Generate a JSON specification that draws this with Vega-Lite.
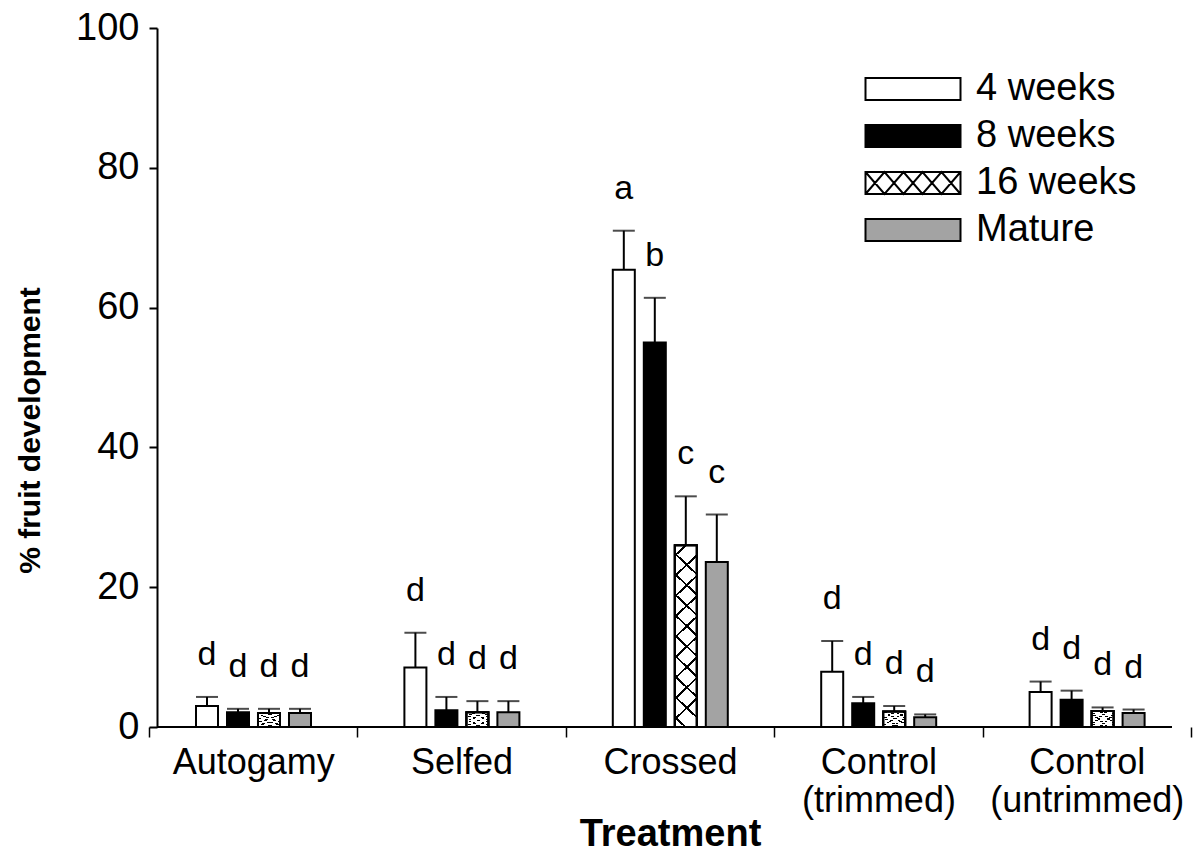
{
  "$schema": "https://vega.github.io/schema/vega-lite/v6.json",
  "width": 1015,
  "height": 699,
  "autosize": "none",
  "padding": {"left": 157, "top": 28, "right": 27, "bottom": 127},
  "background": "white",
  "config": {
    "view": {"stroke": null},
    "font": "Liberation Sans",
    "axis": {"labelColor": "black", "titleColor": "black", "grid": false, "labelFont": "Liberation Sans", "titleFont": "Liberation Sans"},
    "legend": {"labelFont": "Liberation Sans"}
  },
  "data": {
    "values": [
      {"treatment": "Autogamy", "age": "4 weeks", "value": 3.0, "err": 4.3, "letter": "d"},
      {"treatment": "Autogamy", "age": "8 weeks", "value": 2.1, "err": 2.6, "letter": "d"},
      {"treatment": "Autogamy", "age": "16 weeks", "value": 2.0, "err": 2.6, "letter": "d"},
      {"treatment": "Autogamy", "age": "Mature", "value": 2.0, "err": 2.6, "letter": "d"},
      {"treatment": "Selfed", "age": "4 weeks", "value": 8.5, "err": 13.5, "letter": "d"},
      {"treatment": "Selfed", "age": "8 weeks", "value": 2.4, "err": 4.3, "letter": "d"},
      {"treatment": "Selfed", "age": "16 weeks", "value": 2.1, "err": 3.7, "letter": "d"},
      {"treatment": "Selfed", "age": "Mature", "value": 2.1, "err": 3.7, "letter": "d"},
      {"treatment": "Crossed", "age": "4 weeks", "value": 65.4, "err": 71.0, "letter": "a"},
      {"treatment": "Crossed", "age": "8 weeks", "value": 55.0, "err": 61.4, "letter": "b"},
      {"treatment": "Crossed", "age": "16 weeks", "value": 26.0, "err": 33.0, "letter": "c"},
      {"treatment": "Crossed", "age": "Mature", "value": 23.6, "err": 30.4, "letter": "c"},
      {"treatment": "Control (trimmed)", "age": "4 weeks", "value": 7.9, "err": 12.3, "letter": "d"},
      {"treatment": "Control (trimmed)", "age": "8 weeks", "value": 3.4, "err": 4.3, "letter": "d"},
      {"treatment": "Control (trimmed)", "age": "16 weeks", "value": 2.2, "err": 3.0, "letter": "d"},
      {"treatment": "Control (trimmed)", "age": "Mature", "value": 1.4, "err": 1.8, "letter": "d"},
      {"treatment": "Control (untrimmed)", "age": "4 weeks", "value": 5.0, "err": 6.5, "letter": "d"},
      {"treatment": "Control (untrimmed)", "age": "8 weeks", "value": 3.9, "err": 5.2, "letter": "d"},
      {"treatment": "Control (untrimmed)", "age": "16 weeks", "value": 2.3, "err": 2.8, "letter": "d"},
      {"treatment": "Control (untrimmed)", "age": "Mature", "value": 2.0, "err": 2.5, "letter": "d"}
    ]
  },
  "layer": [
    {
      "mark": {"type": "bar", "stroke": "black", "strokeWidth": 2},
      "encoding": {
        "x": {
          "field": "treatment", "type": "nominal",
          "sort": ["Autogamy", "Selfed", "Crossed", "Control (trimmed)", "Control (untrimmed)"],
          "scale": {"range": [-8, 1034], "paddingInner": 0, "paddingOuter": 0},
          "axis": {
            "domain": false, "tickBand": "extent", "tickSize": 10, "tickColor": "black", "tickWidth": 1.5,
            "labelAngle": 0, "labelFontSize": 36, "labelExpr": "split(datum.label, ' ')", "labelLineHeight": 38,
            "labelPadding": 8, "labelBaseline": "top", "labelLimit": 400,
            "title": "Treatment", "titleFontSize": 38, "titleFontWeight": "bold", "titlePadding": -3
          }
        },
        "xOffset": {
          "field": "age", "type": "nominal",
          "sort": ["4 weeks", "8 weeks", "16 weeks", "Mature"],
          "scale": {"range": [47, 162], "paddingInner": 0.29, "paddingOuter": 0}
        },
        "y": {
          "field": "value", "type": "quantitative",
          "scale": {"domain": [0, 100], "nice": false},
          "axis": {
            "values": [0, 20, 40, 60, 80, 100], "domain": true, "domainColor": "black", "domainWidth": 2,
            "tickSize": 8, "tickColor": "black", "tickWidth": 2, "labelFontSize": 38, "labelPadding": 10,
            "title": "% fruit development", "titleFontSize": 30, "titleFontWeight": "bold", "titlePadding": 30,
            "titleY": 402
          }
        },
        "color": {
          "field": "age", "type": "nominal",
          "scale": {
            "domain": ["4 weeks", "8 weeks", "16 weeks", "Mature"],
            "range": ["white", "black", "white", "#a3a3a3"]
          },
          "legend": {
            "orient": "none", "legendX": 730, "legendY": 35, "title": null,
            "symbolType": "M-1.9,-0.44H1.9V0.44H-1.9Z", "symbolSize": 2500,
            "symbolStrokeColor": "black", "symbolStrokeWidth": 2,
            "labelFontSize": 38, "labelColor": "black", "labelOffset": 37, "rowPadding": 2, "labelLimit": 400,
            "encode": {
              "symbols": {
                "update": {
                  "stroke": {"value": "black"},
                  "strokeWidth": {"value": 2},
                  "shape": [
                    {
                      "test": "datum.value === '16 weeks'",
                      "value": "M-1.9,-0.44H1.9V0.44H-1.9Z M-1.9,-0.44L-1.14,0.44L-0.38,-0.44L0.38,0.44L1.14,-0.44L1.9,0.44 M-1.9,0.44L-1.14,-0.44L-0.38,0.44L0.38,-0.44L1.14,0.44L1.9,-0.44"
                    },
                    {"value": "M-1.9,-0.44H1.9V0.44H-1.9Z"}
                  ]
                }
              }
            }
          }
        }
      }
    },
    {
      "transform": [{"filter": "datum.age == '16 weeks'"}],
      "mark": {
        "type": "bar", "stroke": "black", "strokeWidth": 2,
        "fill": {
          "gradient": "linear", "x1": 0, "y1": 0, "x2": 0.115, "y2": 1,
          "stops": [
            {"offset": 0, "color": "transparent"},
            {"offset": 0.05, "color": "transparent"}, {"offset": 0.05, "color": "black"}, {"offset": 0.064, "color": "black"}, {"offset": 0.064, "color": "transparent"},
            {"offset": 0.161, "color": "transparent"}, {"offset": 0.161, "color": "black"}, {"offset": 0.175, "color": "black"}, {"offset": 0.175, "color": "transparent"},
            {"offset": 0.272, "color": "transparent"}, {"offset": 0.272, "color": "black"}, {"offset": 0.286, "color": "black"}, {"offset": 0.286, "color": "transparent"},
            {"offset": 0.383, "color": "transparent"}, {"offset": 0.383, "color": "black"}, {"offset": 0.397, "color": "black"}, {"offset": 0.397, "color": "transparent"},
            {"offset": 0.494, "color": "transparent"}, {"offset": 0.494, "color": "black"}, {"offset": 0.508, "color": "black"}, {"offset": 0.508, "color": "transparent"},
            {"offset": 0.605, "color": "transparent"}, {"offset": 0.605, "color": "black"}, {"offset": 0.619, "color": "black"}, {"offset": 0.619, "color": "transparent"},
            {"offset": 0.716, "color": "transparent"}, {"offset": 0.716, "color": "black"}, {"offset": 0.730, "color": "black"}, {"offset": 0.730, "color": "transparent"},
            {"offset": 0.827, "color": "transparent"}, {"offset": 0.827, "color": "black"}, {"offset": 0.841, "color": "black"}, {"offset": 0.841, "color": "transparent"},
            {"offset": 0.938, "color": "transparent"}, {"offset": 0.938, "color": "black"}, {"offset": 0.952, "color": "black"}, {"offset": 0.952, "color": "transparent"},
            {"offset": 1, "color": "transparent"}
          ]
        }
      },
      "encoding": {
        "x": {"field": "treatment", "type": "nominal", "sort": ["Autogamy", "Selfed", "Crossed", "Control (trimmed)", "Control (untrimmed)"]},
        "xOffset": {"field": "age", "type": "nominal", "sort": ["4 weeks", "8 weeks", "16 weeks", "Mature"]},
        "y": {"field": "value", "type": "quantitative"}
      }
    },
    {
      "transform": [{"filter": "datum.age == '16 weeks'"}],
      "mark": {
        "type": "bar", "stroke": "black", "strokeWidth": 2,
        "fill": {
          "gradient": "linear", "x1": 0.115, "y1": 0, "x2": 0, "y2": 1,
          "stops": [
            {"offset": 0, "color": "transparent"},
            {"offset": 0.05, "color": "transparent"}, {"offset": 0.05, "color": "black"}, {"offset": 0.064, "color": "black"}, {"offset": 0.064, "color": "transparent"},
            {"offset": 0.161, "color": "transparent"}, {"offset": 0.161, "color": "black"}, {"offset": 0.175, "color": "black"}, {"offset": 0.175, "color": "transparent"},
            {"offset": 0.272, "color": "transparent"}, {"offset": 0.272, "color": "black"}, {"offset": 0.286, "color": "black"}, {"offset": 0.286, "color": "transparent"},
            {"offset": 0.383, "color": "transparent"}, {"offset": 0.383, "color": "black"}, {"offset": 0.397, "color": "black"}, {"offset": 0.397, "color": "transparent"},
            {"offset": 0.494, "color": "transparent"}, {"offset": 0.494, "color": "black"}, {"offset": 0.508, "color": "black"}, {"offset": 0.508, "color": "transparent"},
            {"offset": 0.605, "color": "transparent"}, {"offset": 0.605, "color": "black"}, {"offset": 0.619, "color": "black"}, {"offset": 0.619, "color": "transparent"},
            {"offset": 0.716, "color": "transparent"}, {"offset": 0.716, "color": "black"}, {"offset": 0.730, "color": "black"}, {"offset": 0.730, "color": "transparent"},
            {"offset": 0.827, "color": "transparent"}, {"offset": 0.827, "color": "black"}, {"offset": 0.841, "color": "black"}, {"offset": 0.841, "color": "transparent"},
            {"offset": 0.938, "color": "transparent"}, {"offset": 0.938, "color": "black"}, {"offset": 0.952, "color": "black"}, {"offset": 0.952, "color": "transparent"},
            {"offset": 1, "color": "transparent"}
          ]
        }
      },
      "encoding": {
        "x": {"field": "treatment", "type": "nominal", "sort": ["Autogamy", "Selfed", "Crossed", "Control (trimmed)", "Control (untrimmed)"]},
        "xOffset": {"field": "age", "type": "nominal", "sort": ["4 weeks", "8 weeks", "16 weeks", "Mature"]},
        "y": {"field": "value", "type": "quantitative"}
      }
    },
    {
      "mark": {"type": "rule", "color": "black", "strokeWidth": 2},
      "encoding": {
        "x": {"field": "treatment", "type": "nominal", "sort": ["Autogamy", "Selfed", "Crossed", "Control (trimmed)", "Control (untrimmed)"]},
        "xOffset": {"field": "age", "type": "nominal", "sort": ["4 weeks", "8 weeks", "16 weeks", "Mature"]},
        "y": {"field": "value", "type": "quantitative"},
        "y2": {"field": "err"}
      }
    },
    {
      "mark": {"type": "tick", "color": "black", "size": 22, "thickness": 2},
      "encoding": {
        "x": {"field": "treatment", "type": "nominal", "sort": ["Autogamy", "Selfed", "Crossed", "Control (trimmed)", "Control (untrimmed)"]},
        "xOffset": {"field": "age", "type": "nominal", "sort": ["4 weeks", "8 weeks", "16 weeks", "Mature"]},
        "y": {"field": "err", "type": "quantitative"}
      }
    },
    {
      "mark": {"type": "text", "color": "black", "fontSize": 34, "baseline": "alphabetic", "dy": -32, "font": "Liberation Sans"},
      "encoding": {
        "x": {"field": "treatment", "type": "nominal", "sort": ["Autogamy", "Selfed", "Crossed", "Control (trimmed)", "Control (untrimmed)"]},
        "xOffset": {"field": "age", "type": "nominal", "sort": ["4 weeks", "8 weeks", "16 weeks", "Mature"]},
        "y": {"field": "err", "type": "quantitative"},
        "text": {"field": "letter"}
      }
    },
    {
      "data": {"values": [{"base": 0}]},
      "mark": {"type": "rule", "color": "black", "strokeWidth": 2},
      "encoding": {"y": {"field": "base", "type": "quantitative"}}
    }
  ]
}
